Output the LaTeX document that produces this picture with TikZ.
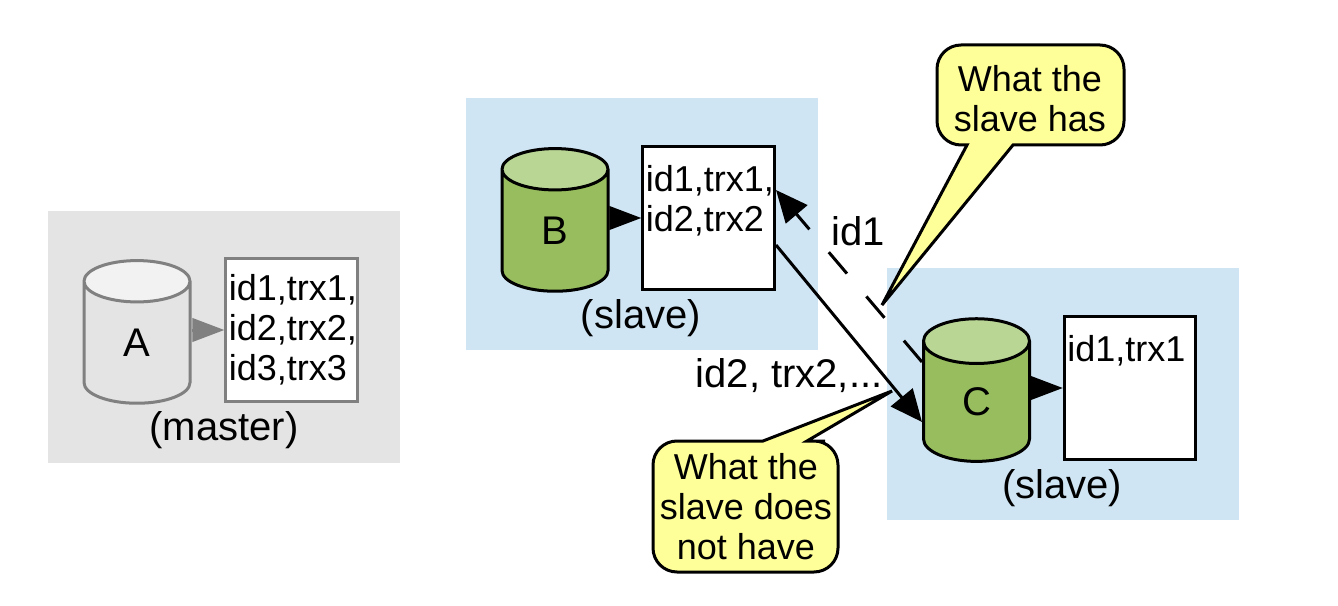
\documentclass[tikz,border=0pt]{standalone}
\usepackage{fontspec}
\setmainfont{Liberation Sans}
\usetikzlibrary{shapes.geometric, arrows.meta}
\definecolor{graybg}{HTML}{E4E4E4}
\definecolor{bluebg}{HTML}{CFE5F3}
\definecolor{noteyellow}{HTML}{FFFF99}
\definecolor{dbgreen}{HTML}{97BD5E}
\definecolor{dbgreentop}{HTML}{B9D695}
\definecolor{dbgray}{HTML}{E4E4E4}
\definecolor{dbgraytop}{HTML}{F2F2F2}
\definecolor{linegray}{HTML}{808080}

\begin{document}
\begin{tikzpicture}[x=0.75pt, y=-0.75pt, every node/.style={font=\fontsize{27}{30}\selectfont}]
	\tikzstyle{region}=[inner sep=0pt, minimum width=264pt, minimum height=189pt]
	\tikzstyle{dbc}=[cylinder, draw=black, line width=2.25pt, shape border rotate=90, aspect=1.55, minimum width=79.5pt, minimum height=107pt, inner sep=0pt, font=\fontsize{30}{33}\selectfont, cylinder uses custom fill, cylinder body fill=dbgreen, cylinder end fill=dbgreentop]
	\tikzstyle{dbgrayc}=[dbc, draw=linegray, cylinder body fill=dbgray, cylinder end fill=dbgraytop]
	\tikzstyle{logbox}=[rectangle, draw=black, line width=2.25pt, fill=white, minimum width=98.5pt, minimum height=107pt, text width=94pt, inner sep=2pt, align=left]
	\tikzstyle{note}=[draw=black, line width=2.25pt, fill=noteyellow, rounded corners=18pt]
	\tikzstyle{flow}=[draw=black, line width=2.25pt, -{Triangle[length=24pt, width=21pt]}]
	\tikzstyle{store}=[draw=black, line width=2.25pt, -{Triangle[length=24pt, width=17.5pt]}]
	\tikzstyle{biglabel}=[font=\fontsize{30}{33}\selectfont]
	\useasboundingbox (0,0) rectangle (1338,606);
	% shaded regions
	\node (rega) at (224,336.5) [region, fill=graybg]{};
	\node (regb) at (642,224) [region, fill=bluebg]{};
	\node (regc) at (1062.5,394) [region, fill=bluebg]{};
	% databases and their logs
	\node (dba) at (137,343) [dbgrayc]{A};
	\node (boxa) at (291.5,330) [logbox, draw=linegray]{id1,trx1,\\id2,trx2,\\id3,trx3};
	\draw[store, draw=linegray] (dba.east |- boxa.west) -- (boxa.west);
	\node (dbb) at (555,231) [dbc]{B};
	\node (boxb) at (708.5,218) [logbox]{id1,trx1,\\id2,trx2\\~};
	\draw[store] (dbb.east |- boxb.west) -- (boxb.west);
	\coordinate (bout) at (776,245);
	\coordinate (bin) at (776,190);
	\coordinate (cin) at (922,422);
	\coordinate (cout) at (922,362);
	\draw[flow] (bout) -- (cin);
	\draw[flow, dash pattern=on 21pt off 22.5pt] (cout) -- (bin);
	\node (dbc) at (976.5,402) [dbc]{C};
	\node (boxc) at (1130,388) [logbox]{id1,trx1\\~\\~};
	\draw[store] (dbc.east |- boxc.west) -- (boxc.west);
	% labels
	\node (labm) at (224,430) [biglabel]{(master)};
	\node (labb) at (641,318) [biglabel]{(slave)};
	\node (labc) at (1062,488) [biglabel]{(slave)};
	\node (labid) at (858,231) [biglabel]{id1};
	\node (labtrx) at (789,376) [biglabel]{id2, trx2,...};
	% callouts
	\draw[note] (1060,145) -- (1124,145) -- (1124,45) -- (937,45) -- (937,145) [sharp corners] -- (967,145) -- (882,305) -- (1013,145) -- cycle;
	\node (notea) at (1030,99) [align=center]{What the\\slave has};
	\draw[note] (825,441) -- (838,441) -- (838,572) -- (653,572) -- (653,441) [sharp corners] -- (763,441) -- (892,391) -- (807,441) -- cycle;
	\node (noteb) at (746,507) [align=center]{What the\\slave does\\not have};
\end{tikzpicture}
\end{document}
